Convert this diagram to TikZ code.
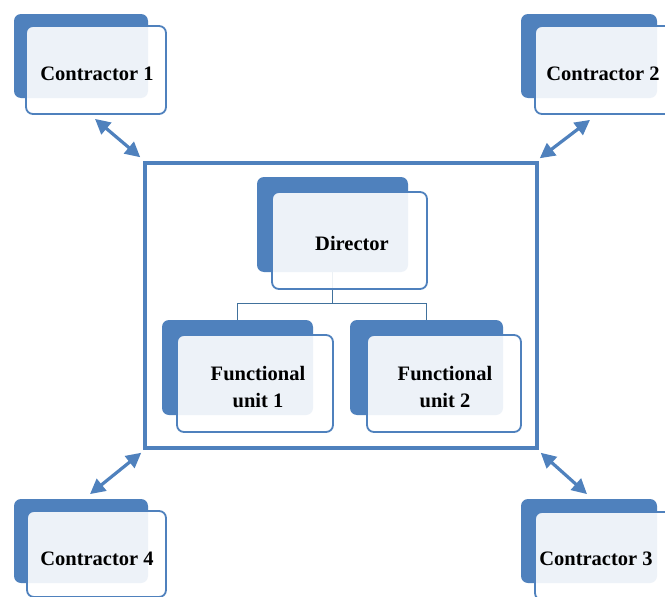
\documentclass[tikz,border=0pt]{standalone}
\usepackage{fontspec}
\setmainfont{Liberation Serif}
\usetikzlibrary{arrows.meta}
\definecolor{dblue}{HTML}{4F81BD}
\definecolor{tblue}{HTML}{41719C}
\begin{document}
\begin{tikzpicture}[x=1pt,y=-1pt,
  back/.style={fill=dblue, rounded corners=7pt, inner sep=0pt},
  front/.style={draw=dblue, line width=1.8pt, fill=white, fill opacity=0.9,
    rounded corners=7pt, inner sep=0pt},
  lbl/.style={inner sep=0pt, align=center, font=\bfseries\fontsize{20.5}{27}\selectfont},
  arr/.style={{Triangle[length=15pt,width=15pt]}-{Triangle[length=15pt,width=15pt]}, line width=3.2pt, draw=dblue},
  tree/.style={draw=tblue, line width=1.4pt}]
\useasboundingbox (0,0) rectangle (665,597);
\fill[white] (0,0) rectangle (665,597);
\clip (0,0) rectangle (665,597);

% contractors
\node[back, minimum width=134pt, minimum height=84pt] (c1b) at (81,56) {};
\node[front, minimum width=140pt, minimum height=88pt] (c1f) at (96,70) {};
\node[lbl] (t1) at (97,74) {Contractor 1};

\node[back, minimum width=136pt, minimum height=84pt] (c2b) at (589,56) {};
\node[front, minimum width=140pt, minimum height=88pt] (c2f) at (605,70) {};
\node[lbl] (t2) at (603,74) {Contractor 2};

\node[back, minimum width=136pt, minimum height=84pt] (c3b) at (589,541) {};
\node[front, minimum width=140pt, minimum height=88pt] (c3f) at (605,556) {};
\node[lbl] (t3) at (596,559) {Contractor 3};

\node[back, minimum width=134pt, minimum height=84pt] (c4b) at (81,541) {};
\node[front, minimum width=139pt, minimum height=86pt] (c4f) at (96.5,554) {};
\node[lbl] (t4) at (97,559) {Contractor 4};

% frame
\node[draw=dblue, line width=3.5pt, minimum width=392pt, minimum height=285pt, inner sep=0pt] (frame) at (341,305.5) {};

% inner boxes: backs
\node[back, minimum width=151pt, minimum height=95pt] (db) at (332.5,224.5) {};
\node[back, minimum width=151pt, minimum height=95pt] (f1b) at (237.5,367.5) {};
\node[back, minimum width=153pt, minimum height=95pt] (f2b) at (426.5,367.5) {};

% tree connectors
\draw[tree] (db.south) -- ++(0,31) -| (f1b.north);
\draw[tree] (db.south) ++(0,31) -| (f2b.north);

% inner boxes: fronts
\node[front, minimum width=155pt, minimum height=97pt] (df) at (349.5,240.5) {};
\node[front, minimum width=156pt, minimum height=97pt] (f1f) at (255,383.5) {};
\node[front, minimum width=154pt, minimum height=97pt] (f2f) at (444,383.5) {};
\node[lbl] (dt) at (352,243.5) {Director};
\node[lbl] (f1t) at (258,387.5) {Functional\\unit 1};
\node[lbl] (f2t) at (445,387.5) {Functional\\unit 2};

% arrows
\draw[arr] ([shift={(-1,4)}]c1f.south) -- ([shift={(-3,-4)}]frame.north west);
\draw[arr] ([shift={(-15,5)}]c2f.south) -- ([shift={(1,-3)}]frame.north east);
\draw[arr] ([shift={(2,3)}]frame.south east) -- ([shift={(-18,-17)}]c3f.north);
\draw[arr] ([shift={(-6.5,-16)}]c4f.north) -- ([shift={(-2,3)}]frame.south west);
\end{tikzpicture}
\end{document}
